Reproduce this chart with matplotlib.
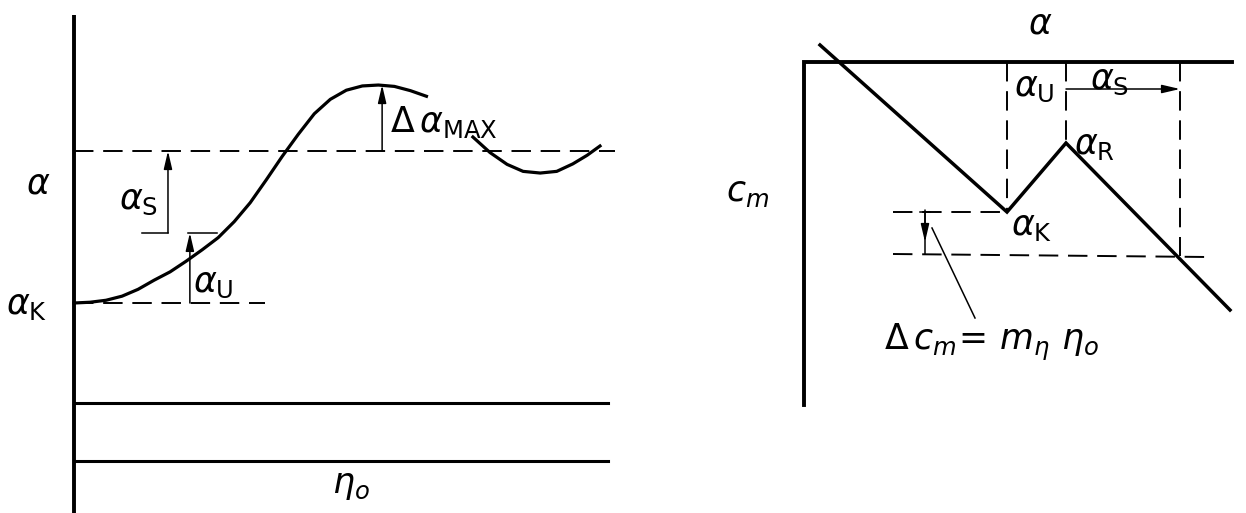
import matplotlib.pyplot as plt

plt.rcParams["mathtext.fontset"] = "dejavusans"

# left panel: angle of attack alpha against elevator deflection eta_o
eta_curve = [0.0, 0.03, 0.06, 0.09, 0.12, 0.15, 0.18, 0.21, 0.24, 0.27, 0.30,
             0.33, 0.36, 0.39, 0.42, 0.45, 0.48, 0.51, 0.54, 0.57, 0.60, 0.63, 0.66]
alpha_curve = [0.0, 0.005, 0.018, 0.045, 0.09, 0.15, 0.205, 0.275, 0.35, 0.43, 0.535,
               0.66, 0.81, 0.965, 1.11, 1.245, 1.34, 1.40, 1.428, 1.434, 1.425, 1.397, 1.36]
eta_tail = [0.747, 0.779, 0.811, 0.841, 0.873, 0.904, 0.934, 0.961, 0.985]
alpha_tail = [1.092, 0.99, 0.912, 0.866, 0.855, 0.866, 0.915, 0.972, 1.033]
alpha_k = 0.0
alpha_trim = 1.0
alpha_peak = 1.434
alpha_u_top = 0.461
eta_u = 0.217
eta_s = 0.176
eta_peak = 0.577
eta_base = [-0.658, -1.039]

# right panel: c_m against alpha with the kink
a_line = [0.16, 2.03, 2.62, 4.26]
cm_line = [0.17, -1.50, -0.81, -2.48]
a_cross = 3.76
cm_cross = -1.92

fig = plt.figure(figsize=(12.46, 5.13), dpi=100)
W, H = 1246.0, 513.0

# ---- left ----
ax1 = fig.add_axes([0, 0, 623 / W, 1])
ax1.set_xlim(-74 / 534, 549 / 534)
ax1.set_ylim(-210 / 152, 303 / 152)
ax1.axis("off")

ax1.plot([0, 0], [-1.4, 1.895], color="k", lw=2.8, solid_capstyle="butt")
for yb in eta_base:
    ax1.plot([0, 1.0], [yb, yb], color="k", lw=2.2)
ax1.plot([0, 1.013], [alpha_trim, alpha_trim], color="k", lw=1.4, dashes=(10, 5))
ax1.plot([0, 0.358], [alpha_k, alpha_k], color="k", lw=1.4, dashes=(10, 5))
ax1.plot(eta_curve, alpha_curve, color="k", lw=2.3, solid_joinstyle="round")
ax1.plot(eta_tail, alpha_tail, color="k", lw=2.3, solid_joinstyle="round")

arrow = dict(arrowstyle="-|>,head_length=0.6,head_width=0.14", color="k", lw=1.1,
             shrinkA=0, shrinkB=0, mutation_scale=18)
ax1.annotate("", xy=(eta_u, alpha_u_top), xytext=(eta_u, alpha_k), arrowprops=arrow)
ax1.plot([eta_u - 0.004, 0.268], [alpha_u_top, alpha_u_top], color="k", lw=1.1)
ax1.annotate("", xy=(eta_s, alpha_trim), xytext=(eta_s, alpha_u_top), arrowprops=arrow)
ax1.plot([0.127, eta_s], [alpha_u_top, alpha_u_top], color="k", lw=1.1)
ax1.annotate("", xy=(eta_peak, alpha_peak), xytext=(eta_peak, alpha_trim), arrowprops=arrow)

fs = 25
ax1.text(-0.067, 0.789, r"$\alpha$", fontsize=fs, ha="center", va="center")
ax1.text(-0.128, -0.01, r"$\alpha_{\mathrm{K}}$", fontsize=fs, ha="left", va="center")
ax1.text(0.084, 0.68, r"$\alpha_{\mathrm{S}}$", fontsize=fs, ha="left", va="center")
ax1.text(0.222, 0.13, r"$\alpha_{\mathrm{U}}$", fontsize=fs, ha="left", va="center")
ax1.text(0.592, 1.19, r"$\Delta\,\alpha_{\mathrm{MAX}}$", fontsize=fs, ha="left", va="center")
ax1.text(0.519, -1.197, r"$\eta_o$", fontsize=fs, ha="center", va="center")

# ---- right ----
ax2 = fig.add_axes([623 / W, 0, 623 / W, 1])
ax2.set_xlim(-1.81, 4.42)
ax2.set_ylim(-4.51, 0.62)
ax2.axis("off")

ax2.plot([0, 0, 4.28], [-3.43, 0, 0], color="k", lw=2.8, solid_joinstyle="miter")
ax2.plot(a_line, cm_line, color="k", lw=2.5, solid_joinstyle="miter")

dash = dict(color="k", lw=1.4, dashes=(10, 5))
ax2.plot([a_line[1], a_line[1]], [0, cm_line[1]], **dash)
ax2.plot([a_line[2], a_line[2]], [0, cm_line[2]], **dash)
ax2.plot([a_cross, a_cross], [0, cm_cross - 0.02], **dash)
ax2.plot([0.89, a_line[1]], [cm_line[1], cm_line[1]], **dash)
ax2.plot([0.89, 4.03], [cm_cross, cm_cross - 0.03], **dash)

ax2.annotate("", xy=(a_cross, -0.27), xytext=(a_line[2], -0.27), arrowprops=arrow)

# delta c_m bracket
a_d = 1.21
ax2.plot([a_d, a_d], [cm_line[1], cm_cross], color="k", lw=1.1)
ax2.plot([a_d - 0.05, a_d + 0.05], [cm_line[1], cm_line[1]], color="k", lw=1.1)
ax2.annotate("", xy=(a_d, cm_cross + 0.12), xytext=(a_d, cm_line[1] + 0.02), arrowprops=arrow)
ax2.plot([1.28, 1.71], [-1.66, -2.56], color="k", lw=1.1)

ax2.text(2.36, 0.38, r"$\alpha$", fontsize=fs, ha="center", va="center")
ax2.text(-0.78, -1.30, r"$c_m$", fontsize=fs, ha="left", va="center")
ax2.text(2.10, -0.25, r"$\alpha_{\mathrm{U}}$", fontsize=fs, ha="left", va="center")
ax2.text(2.86, -0.18, r"$\alpha_{\mathrm{S}}$", fontsize=fs, ha="left", va="center")
ax2.text(2.70, -0.83, r"$\alpha_{\mathrm{R}}$", fontsize=fs, ha="left", va="center")
ax2.text(2.07, -1.64, r"$\alpha_{\mathrm{K}}$", fontsize=fs, ha="left", va="center")
ax2.text(0.80, -2.80, r"$\Delta\,c_m\!=\,m_\eta\ \eta_o$", fontsize=fs, ha="left", va="center")

fig.savefig("out.png", dpi=100, facecolor="white")
